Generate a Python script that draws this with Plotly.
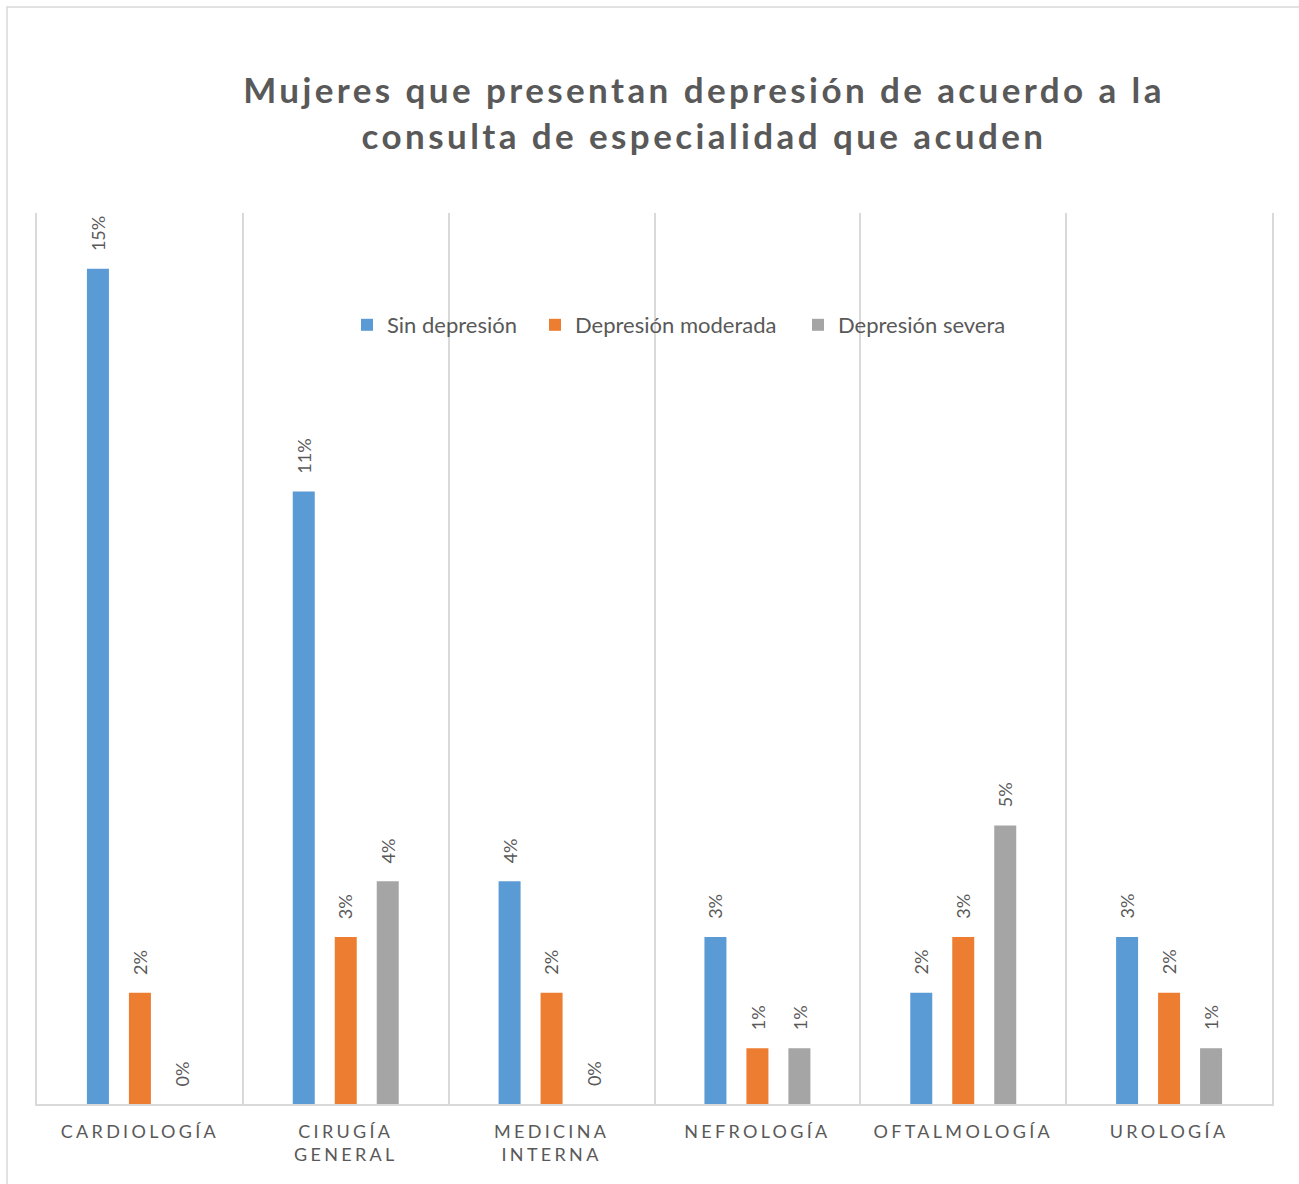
import plotly.graph_objects as go

# Specialties and the share of women in each depression category (%)
especialidades = ["CARDIOLOGÍA", "CIRUGÍA<br>GENERAL", "MEDICINA<br>INTERNA",
                  "NEFROLOGÍA", "OFTALMOLOGÍA", "UROLOGÍA"]
sin_depresion = [15, 11, 4, 3, 2, 3]
depresion_moderada = [2, 3, 2, 1, 3, 2]
depresion_severa = [0, 4, 0, 1, 5, 1]

series = [
    ("Sin depresión", sin_depresion, "#5B9BD5"),
    ("Depresión moderada", depresion_moderada, "#ED7D31"),
    ("Depresión severa", depresion_severa, "#A5A5A5"),
]

W, H = 1299, 1184
L, R, T, B = 37, 27, 213, 80
TEXT = "#595959"
FONT = "Lato, 'Open Sans', sans-serif"
SLOT = 42          # pixel distance between neighbouring bars in a group

pw, ph = W - L - R, H - T - B


def px_x(p):
    return (p - L) / pw


def px_y(p):
    return (H - B - p) / ph


legend_names = ["legend", "legend2", "legend3"]
legend_left = [361, 549, 812]

fig = go.Figure()
annotations = []
for i, (name, vals, color) in enumerate(series):
    fig.add_trace(go.Bar(
        x=especialidades, y=vals, name=name,
        marker=dict(color=color, line=dict(width=0)),
        legend=legend_names[i], showlegend=True,
    ))
    # rotated value labels sitting above each bar
    for cat, v in zip(especialidades, vals):
        annotations.append(dict(
            x=cat, y=v, xref="x", yref="y", text=f"{v}%",
            showarrow=False, textangle=-90,
            xanchor="center", yanchor="bottom",
            xshift=(i - 1) * SLOT, yshift=16,
            font=dict(size=18, color=TEXT, family=FONT),
        ))

legend_cfg = {}
for i, lname in enumerate(legend_names):
    legend_cfg[lname] = dict(
        orientation="h", x=px_x(legend_left[i] - 14), xanchor="left",
        y=px_y(325), yanchor="middle",
        font=dict(size=22, color=TEXT, family=FONT),
        bgcolor="rgba(0,0,0,0)", itemwidth=30, visible=True,
    )

fig.update_layout(
    width=W, height=H,
    margin=dict(l=L, r=R, t=T, b=B),
    paper_bgcolor="white", plot_bgcolor="white",
    showlegend=True,
    barmode="group", bargap=0.388, bargroupgap=0.476,
    font=dict(family=FONT, color=TEXT),
    title=dict(
        text="<b>Mujeres que presentan depresión de acuerdo a la<br>consulta de especialidad que acuden</b>",
        x=px_x(704), xref="paper", xanchor="center",
        y=1 - 103 / H, yref="container", yanchor="top",
        font=dict(size=35, color=TEXT, family=FONT),
    ),
    xaxis=dict(
        showgrid=True, gridcolor="#D9D9D9", gridwidth=2,
        tickson="boundaries", ticks="", showline=True,
        linecolor="#D9D9D9", linewidth=2,
        tickfont=dict(size=18, color=TEXT, family=FONT),
        ticklabelstandoff=10,
        fixedrange=True,
    ),
    yaxis=dict(
        range=[0, 16], showgrid=False, zeroline=False,
        showticklabels=False, ticks="",
        showline=True, mirror=True, linecolor="#D9D9D9", linewidth=2,
        fixedrange=True,
    ),
    annotations=annotations,
    shapes=[dict(
        type="rect", xref="paper", yref="paper",
        x0=px_x(7), x1=px_x(W + 10), y0=px_y(H + 10), y1=px_y(7),
        line=dict(color="#D9D9D9", width=1.5), fillcolor="rgba(0,0,0,0)",
        layer="below",
    )],
    **legend_cfg,
)

# Wide letter spacing on the title and category labels
post = """
var gd = document.getElementsByClassName('plotly-graph-div')[0];
function spacing(){
  gd.querySelectorAll('.gtitle').forEach(function(t){t.style.letterSpacing='3.4px';});
  gd.querySelectorAll('.xtick text').forEach(function(t){t.style.letterSpacing='3.3px';});
}
spacing();
gd.on('plotly_afterplot', spacing);
"""

fig.write_html("out.html", post_script=post, config={"displayModeBar": False})
